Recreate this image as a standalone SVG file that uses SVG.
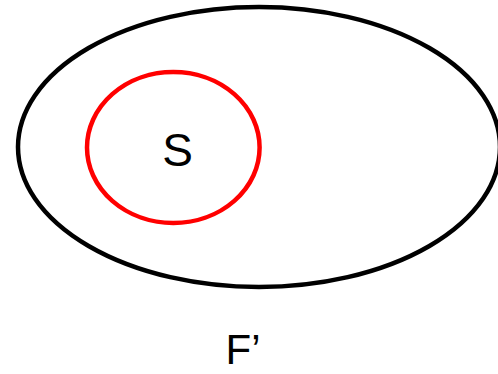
<svg xmlns="http://www.w3.org/2000/svg" width="498" height="374" viewBox="0 0 498 374">
<style>
.lbl{font-family:"Liberation Sans",Arial,sans-serif;fill:#000;text-anchor:middle}
</style>
<rect width="498" height="374" fill="#fff"/>
<g id="F">
<ellipse cx="259" cy="147" rx="241" ry="140" fill="none" stroke="#000" stroke-width="4.5"/>
<text class="lbl" x="243" y="364" font-size="42">F’</text>
</g>
<g id="S">
<ellipse cx="173.3" cy="147.5" rx="86.3" ry="75.5" fill="none" stroke="#f00" stroke-width="4.5"/>
<text class="lbl" x="177.5" y="165.5" font-size="46">S</text>
</g>
<g id="connectors"></g>
</svg>
